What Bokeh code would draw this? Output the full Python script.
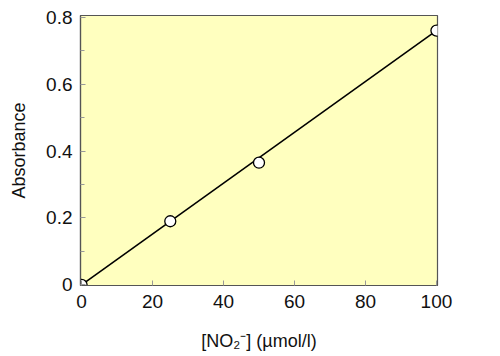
from bokeh.plotting import figure
from bokeh.models import Range1d, FixedTicker
from bokeh.embed import file_html
from bokeh.resources import INLINE

# data
conc = [0, 25, 50, 100]
absorb = [0.0, 0.19, 0.365, 0.76]
fit_x = [0, 100]
fit_y = [0.0, 0.76]
x_ticks = [0, 20, 40, 60, 80, 100]
y_ticks = [0, 0.2, 0.4, 0.6, 0.8]
y_minor = [0.1, 0.3, 0.5, 0.7]

p = figure(width=500, height=356, output_backend="svg", toolbar_location=None,
           x_range=Range1d(-0.3, 100.3), y_range=Range1d(-0.002, 0.805),
           min_border_left=80, min_border_right=63, min_border_top=15, min_border_bottom=71)

p.background_fill_color = "#FFFFBF"
p.border_fill_color = "white"
p.outline_line_color = "#555555"
p.outline_line_width = 1.2
p.grid.visible = False

font = "Liberation Sans"
for ax in (p.xaxis[0], p.yaxis[0]):
    ax.axis_line_color = "#555555"
    ax.axis_line_width = 1.2
    ax.major_tick_in = 5
    ax.major_tick_out = 0
    ax.minor_tick_in = 4
    ax.minor_tick_out = 0
    ax.major_tick_line_color = "#999999"
    ax.minor_tick_line_color = "#999999"
    ax.major_label_text_font = font
    ax.major_label_text_font_size = "19px"
    ax.major_label_text_color = "#111111"
    ax.axis_label_text_font = font
    ax.axis_label_text_font_size = "18px"
    ax.axis_label_text_font_style = "normal"
    ax.axis_label_text_color = "#111111"

p.xaxis.ticker = FixedTicker(ticks=x_ticks)
p.xaxis.minor_tick_line_color = None
p.yaxis.ticker = FixedTicker(ticks=y_ticks, minor_ticks=y_minor)
p.yaxis.major_label_overrides = {0: "0"}
p.xaxis.major_label_standoff = 9
p.yaxis.major_label_standoff = 8
p.xaxis.axis_label = "[NO\u2082\u207b] (\u00b5mol/l)"
p.yaxis.axis_label = "Absorbance"
p.xaxis.axis_label_standoff = 20
p.yaxis.axis_label_standoff = 14

p.line(fit_x, fit_y, line_color="black", line_width=1.6)
p.scatter(conc, absorb, size=11, fill_color="white", line_color="black", line_width=1.3)

open("out.html", "w").write(file_html(p, INLINE))
